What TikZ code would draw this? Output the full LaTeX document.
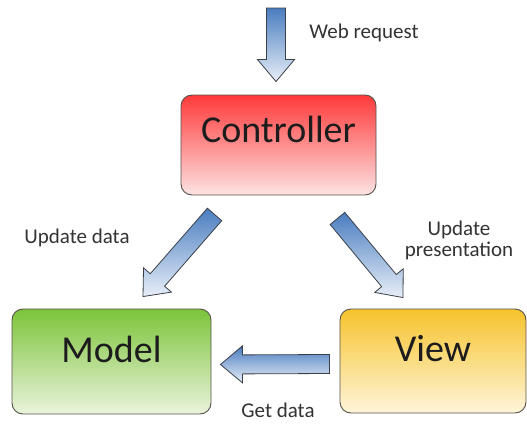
\documentclass[tikz,border=0pt]{standalone}
\usepackage{fontspec}
\setmainfont{Carlito}
\usepackage{tikz}
\usetikzlibrary{calc,positioning}
\definecolor{ctrltop}{HTML}{FF3A3A}
\definecolor{ctrlbot}{HTML}{FCE3E3}
\definecolor{modeltop}{HTML}{7CC43A}
\definecolor{modelbot}{HTML}{EAF3DC}
\definecolor{viewtop}{HTML}{F6C32C}
\definecolor{viewbot}{HTML}{FFF5DA}
\definecolor{arrblue}{HTML}{4A7DC0}
\definecolor{arrlight}{HTML}{E8EFF8}
\definecolor{arrline}{HTML}{3A3F48}
\definecolor{boxline}{HTML}{55524C}
\definecolor{txt}{HTML}{1C1C1C}

% block arrow from tail #1 to tip #2
\newcommand{\blockarr}[2]{%
  \coordinate (#1-h) at ($(#2)!22pt!(#1)$);
  \shade[arr] ($(#1)!9.5pt!90:(#2)$) -- ($(#1-h)!9.5pt!-90:(#1)$)
    -- ($(#1-h)!18.5pt!-90:(#1)$) -- (#2)
    -- ($(#1-h)!18.5pt!90:(#1)$) -- ($(#1-h)!9.5pt!90:(#1)$)
    -- ($(#1)!9.5pt!-90:(#2)$) -- cycle;
}

\begin{document}
\begin{tikzpicture}[
  x=1pt, y=-1pt,
  box/.style={draw=boxline, line width=0.9pt, rounded corners=11pt, inner sep=0pt,
              text=txt, font=\fontsize{38}{40}\selectfont},
  arr/.style={top color=arrblue, bottom color=arrlight, draw=arrline, line width=0.8pt},
  lbl/.style={font=\fontsize{21}{24}\selectfont, text=black!80, align=center}
]
\useasboundingbox (0,0) rectangle (527,423);

% ---- boxes --------------------------------------------------------------
\node[box, top color=ctrltop, bottom color=ctrlbot, minimum width=195pt,
      text height=47pt, text depth=53pt] (ctrl) at (278.5,145) {Controller};
\node[box, top color=modeltop, bottom color=modelbot, minimum width=199pt,
      text height=53pt, text depth=52pt] (model) at (111.5,361.5) {Model};
\node[box, top color=viewtop, bottom color=viewbot, minimum width=186pt,
      text height=52pt, text depth=52pt] (view) at (433,361) {View};

% ---- arrow ends ---------------------------------------------------------
\coordinate (reqtail) at (276,8);
\coordinate (reqtip)  at ($(ctrl.north)+(-2.5,-13)$);
\coordinate (updtail) at ($(ctrl.south west)+(34,19)$);
\coordinate (updtip)  at ($(model.north)+(31.5,-12)$);
\coordinate (prstail) at ($(ctrl.south east)+(-39,23)$);
\coordinate (prstip)  at ($(view.north)+(-30,-11)$);
\coordinate (gettail) at ($(view.west)+(-10,3)$);
\coordinate (gettip)  at ($(model.east)+(9,3)$);

\blockarr{reqtail}{reqtip}
\blockarr{updtail}{updtip}
\blockarr{prstail}{prstip}
\blockarr{gettail}{gettip}

% ---- labels -------------------------------------------------------------
\node[lbl] (lblreq) at (364,33)  {Web request};
\node[lbl] (lblupd) at (77,238)  {Update data};
\node[lbl] (lblprs) at (459,240) {Update\\[-3pt]presentation};
\node[lbl] (lblget) at (278,410) {Get data};

\end{tikzpicture}
\end{document}
